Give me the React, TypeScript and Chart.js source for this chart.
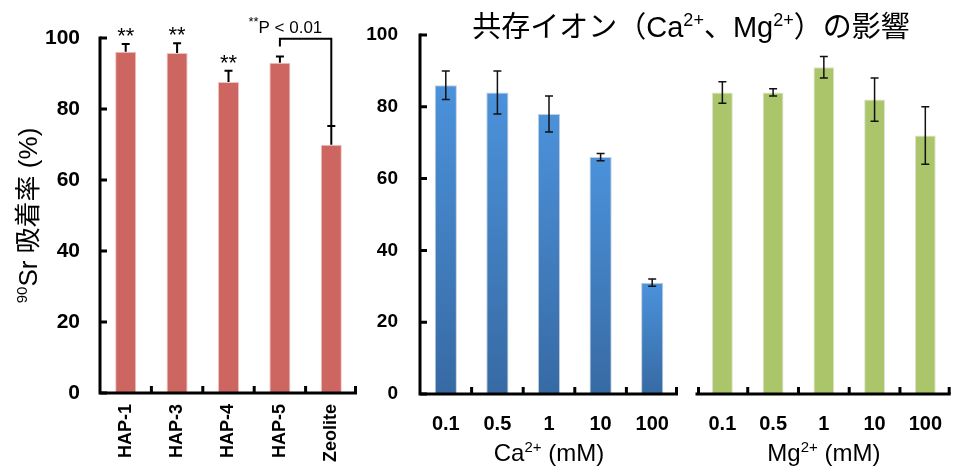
import React, { useEffect, useRef } from "react";
import { Chart, registerables } from "chart.js";

Chart.register(...registerables);

// ---------- data ----------
const sorbents = ["HAP-1", "HAP-3", "HAP-4", "HAP-5", "Zeolite"];
const sorptionRate = [96.1, 95.8, 87.6, 93.0, 69.9];
const sorptionErr = [2.2, 2.7, 3.2, 1.8, 5.3];
const significance = ["**", "**", "**", "", ""];
const bracketFrom = 3;
const bracketTo = 4;
const bracketLevel = 99.8;
const bracketLabel = "P < 0.01";

const concLabels = ["0.1", "0.5", "1", "10", "100"];
const caRate = [86, 84, 78, 66, 31];
const caErr = [4, 6, 5, 1, 1];
const mgRate = [84, 84, 91, 82, 72];
const mgErr = [3, 1, 3, 6, 8];

const yMin = 0;
const yMax = 100;
const yStep = 20;

// ---------- styling ----------
const LATIN = "'Liberation Sans', Arial, sans-serif";
const MIX = "'Liberation Sans', Arial, 'Noto Sans CJK JP', sans-serif";

type Part = { text: string; size: number; weight?: string; rise?: number };

function drawParts(
  ctx: CanvasRenderingContext2D,
  parts: Part[],
  x: number,
  baseline: number,
  align: "left" | "center" | "right"
) {
  ctx.save();
  ctx.textAlign = "left";
  ctx.textBaseline = "alphabetic";
  ctx.fillStyle = "#000";
  const fontOf = (p: Part) => `${p.weight || "normal"} ${p.size}px ${MIX}`;
  const widths = parts.map((p) => {
    ctx.font = fontOf(p);
    return ctx.measureText(p.text).width;
  });
  const total = widths.reduce((a, b) => a + b, 0);
  let cx = align === "left" ? x : align === "center" ? x - total / 2 : x - total;
  parts.forEach((p, i) => {
    ctx.font = fontOf(p);
    ctx.fillText(p.text, cx, baseline - (p.rise || 0));
    cx += widths[i];
  });
  ctx.restore();
}

function drawFrame(chart: any, opts: { yAxis: boolean; startTick: boolean; endTick: boolean }) {
  const { ctx, chartArea } = chart;
  const xs = chart.scales.x;
  const ys = chart.scales.y;
  const y0 = ys.getPixelForValue(yMin);
  const yTop = ys.getPixelForValue(yMax);
  const n = chart.data.labels.length;
  const step = xs.getPixelForValue(1) - xs.getPixelForValue(0);
  ctx.save();
  ctx.strokeStyle = "#000";
  ctx.lineWidth = 3;
  ctx.lineJoin = "miter";
  ctx.lineCap = "butt";
  ctx.beginPath();
  if (opts.yAxis) {
    ctx.moveTo(chartArea.left, yTop - 1.5);
    ctx.lineTo(chartArea.left, y0);
  } else {
    ctx.moveTo(chartArea.left - 1.5, y0);
  }
  ctx.lineTo(chartArea.right, y0);
  ctx.stroke();
  ctx.beginPath();
  if (opts.yAxis) {
    for (let v = yMin; v <= yMax; v += yStep) {
      const py = ys.getPixelForValue(v);
      ctx.moveTo(chartArea.left, py);
      ctx.lineTo(chartArea.left + 7, py);
    }
  }
  for (let i = 0; i <= n; i++) {
    if (i === 0 && !opts.startTick) continue;
    if (i === n && !opts.endTick) continue;
    const px = xs.getPixelForValue(0) - step / 2 + i * step;
    const cxp = i === n ? px - 1.5 : i === 0 ? px + 1.5 : px;
    ctx.moveTo(cxp, y0);
    ctx.lineTo(cxp, y0 - 7);
  }
  ctx.stroke();
  ctx.restore();
}

function drawErrorBars(
  chart: any,
  values: number[],
  errs: number[],
  opts: { upOnly: boolean; width: number; cap: number; color: string }
) {
  const { ctx } = chart;
  const ys = chart.scales.y;
  const meta = chart.getDatasetMeta(0);
  ctx.save();
  ctx.strokeStyle = opts.color;
  ctx.lineWidth = opts.width;
  meta.data.forEach((bar: any, i: number) => {
    const x = bar.x;
    const top = ys.getPixelForValue(values[i] + errs[i]);
    const bot = ys.getPixelForValue(opts.upOnly ? values[i] : values[i] - errs[i]);
    ctx.beginPath();
    ctx.moveTo(x, top);
    ctx.lineTo(x, bot);
    ctx.moveTo(x - opts.cap / 2, top);
    ctx.lineTo(x + opts.cap / 2, top);
    if (!opts.upOnly) {
      ctx.moveTo(x - opts.cap / 2, bot);
      ctx.lineTo(x + opts.cap / 2, bot);
    }
    ctx.stroke();
  });
  ctx.restore();
}

function yScale(display: boolean, size: number, padding: number) {
  return {
    display,
    min: yMin,
    max: yMax,
    grid: { display: false, drawTicks: false },
    border: { display: false },
    ticks: {
      stepSize: yStep,
      color: "#000",
      padding,
      font: { family: LATIN, size, weight: "bold" },
    },
    afterFit: (s: any) => {
      s.width = display ? 100 : 0;
    },
  };
}

function xScale(size: number, padding: number, rotate: boolean, height: number) {
  return {
    offset: true,
    grid: { display: false, drawTicks: false, offset: true },
    border: { display: false },
    ticks: {
      color: "#000",
      padding,
      autoSkip: false,
      minRotation: rotate ? 90 : 0,
      maxRotation: rotate ? 90 : 0,
      font: { family: LATIN, size, weight: "bold" },
    },
    afterFit: (s: any) => {
      s.height = height;
    },
  };
}

function barGradient(top: string, bottom: string, fallback: string) {
  return (c: any) => {
    const chart = c.chart;
    const ys = chart.scales && chart.scales.y;
    if (!ys || c.type !== "data") return fallback;
    const t = ys.getPixelForValue(c.raw);
    const b = ys.getPixelForValue(yMin);
    if (!isFinite(t) || !isFinite(b) || t === b) return fallback;
    const g = chart.ctx.createLinearGradient(0, t, 0, b);
    g.addColorStop(0, top);
    g.addColorStop(1, bottom);
    return g;
  };
}

export default function App() {
  const c1 = useRef<HTMLCanvasElement>(null);
  const c2 = useRef<HTMLCanvasElement>(null);
  const c3 = useRef<HTMLCanvasElement>(null);

  useEffect(() => {
    const left = new Chart(c1.current!, {
      type: "bar",
      data: {
        labels: sorbents,
        datasets: [
          {
            data: sorptionRate,
            backgroundColor: "#cd6660",
            borderColor: "#efc3c0",
            borderWidth: 1,
            barPercentage: 0.41,
            categoryPercentage: 1,
          },
        ],
      },
      options: {
        responsive: false,
        animation: false,
        layout: { padding: { left: 0, right: 603, top: 38, bottom: 0 } },
        plugins: { legend: { display: false }, tooltip: { enabled: false } },
        scales: {
          x: xScale(18, 11, true, 75),
          y: yScale(true, 21, 20),
        } as any,
      },
      plugins: [
        {
          id: "leftDecor",
          afterDatasetsDraw(chart: any) {
            drawErrorBars(chart, sorptionRate, sorptionErr, {
              upOnly: true,
              width: 2,
              cap: 8,
              color: "#000",
            });
            drawFrame(chart, { yAxis: true, startTick: false, endTick: true });
            const { ctx } = chart;
            const ys = chart.scales.y;
            const meta = chart.getDatasetMeta(0);
            meta.data.forEach((bar: any, i: number) => {
              if (!significance[i]) return;
              const top = ys.getPixelForValue(sorptionRate[i] + sorptionErr[i]);
              drawParts(ctx, [{ text: significance[i], size: 22 }], bar.x, top - 1, "center");
            });
            const xa = meta.data[bracketFrom].x;
            const xb = meta.data[bracketTo].x;
            const yb = ys.getPixelForValue(bracketLevel);
            const ya = ys.getPixelForValue(sorptionRate[bracketFrom] + sorptionErr[bracketFrom]) - 10;
            const yc = ys.getPixelForValue(sorptionRate[bracketTo] + sorptionErr[bracketTo]);
            ctx.save();
            ctx.strokeStyle = "#000";
            ctx.lineWidth = 2;
            ctx.beginPath();
            ctx.moveTo(xa, ya);
            ctx.lineTo(xa, yb);
            ctx.lineTo(xb, yb);
            ctx.lineTo(xb, yc);
            ctx.stroke();
            ctx.restore();
            drawParts(
              ctx,
              [
                { text: "**", size: 13, rise: 7 },
                { text: bracketLabel, size: 17 },
              ],
              xb - 9,
              yb - 6,
              "right"
            );
            ctx.save();
            ctx.translate(28, (chart.chartArea.top + chart.chartArea.bottom) / 2);
            ctx.rotate(-Math.PI / 2);
            drawParts(
              ctx,
              [
                { text: "90", size: 15, rise: 10 },
                { text: "Sr 吸着率 (%)", size: 26 },
              ],
              0,
              9,
              "center"
            );
            ctx.restore();
          },
        },
      ],
    } as any);

    const mid = new Chart(c2.current!, {
      type: "bar",
      data: {
        labels: concLabels,
        datasets: [
          {
            data: caRate,
            backgroundColor: barGradient("#4b92db", "#376aa3", "#4180c2"),
            borderColor: "rgba(190,200,215,0.9)",
            borderWidth: 1,
            barPercentage: 0.43,
            categoryPercentage: 1,
          },
        ],
      },
      options: {
        responsive: false,
        animation: false,
        layout: { padding: { left: 320, right: 282, top: 35, bottom: 0 } },
        plugins: { legend: { display: false }, tooltip: { enabled: false } },
        scales: {
          x: xScale(20, 18, false, 74),
          y: yScale(true, 19, 22),
        } as any,
      },
      plugins: [
        {
          id: "midDecor",
          afterDatasetsDraw(chart: any) {
            drawErrorBars(chart, caRate, caErr, { upOnly: false, width: 1.5, cap: 8, color: "#111" });
            drawFrame(chart, { yAxis: true, startTick: false, endTick: true });
            const { ctx, chartArea } = chart;
            drawParts(
              ctx,
              [
                { text: "Ca", size: 24 },
                { text: "2+", size: 15, rise: 9 },
                { text: " (mM)", size: 24 },
              ],
              (chartArea.left + chartArea.right) / 2,
              461,
              "center"
            );
            drawParts(
              ctx,
              [
                { text: "共存イオン（Ca", size: 29 },
                { text: "2+", size: 18, rise: 11 },
                { text: "、Mg", size: 29 },
                { text: "2+", size: 18, rise: 11 },
                { text: "）の影響", size: 29 },
              ],
              691,
              37,
              "center"
            );
          },
        },
      ],
    } as any);

    const right = new Chart(c3.current!, {
      type: "bar",
      data: {
        labels: concLabels,
        datasets: [
          {
            data: mgRate,
            backgroundColor: "#abc56b",
            borderColor: "rgba(215,222,200,0.9)",
            borderWidth: 1,
            barPercentage: 0.41,
            categoryPercentage: 1,
          },
        ],
      },
      options: {
        responsive: false,
        animation: false,
        layout: { padding: { left: 697, right: 0, top: 35, bottom: 0 } },
        plugins: { legend: { display: false }, tooltip: { enabled: false } },
        scales: {
          x: xScale(20, 18, false, 74),
          y: yScale(false, 19, 22),
        } as any,
      },
      plugins: [
        {
          id: "rightDecor",
          afterDatasetsDraw(chart: any) {
            drawErrorBars(chart, mgRate, mgErr, { upOnly: false, width: 1.5, cap: 8, color: "#111" });
            drawFrame(chart, { yAxis: false, startTick: true, endTick: true });
            const { ctx, chartArea } = chart;
            drawParts(
              ctx,
              [
                { text: "Mg", size: 24 },
                { text: "2+", size: 15, rise: 9 },
                { text: " (mM)", size: 24 },
              ],
              (chartArea.left + chartArea.right) / 2,
              461,
              "center"
            );
          },
        },
      ],
    } as any);

    return () => {
      left.destroy();
      mid.destroy();
      right.destroy();
    };
  }, []);

  const cv: React.CSSProperties = { position: "absolute", left: 0, top: 0, width: 960, height: 468 };
  return (
    <div style={{ position: "absolute", left: 0, top: 0, width: 960, height: 468, background: "#fff" }}>
      <canvas ref={c1} width={960} height={468} style={cv} />
      <canvas ref={c2} width={960} height={468} style={cv} />
      <canvas ref={c3} width={960} height={468} style={cv} />
    </div>
  );
}
